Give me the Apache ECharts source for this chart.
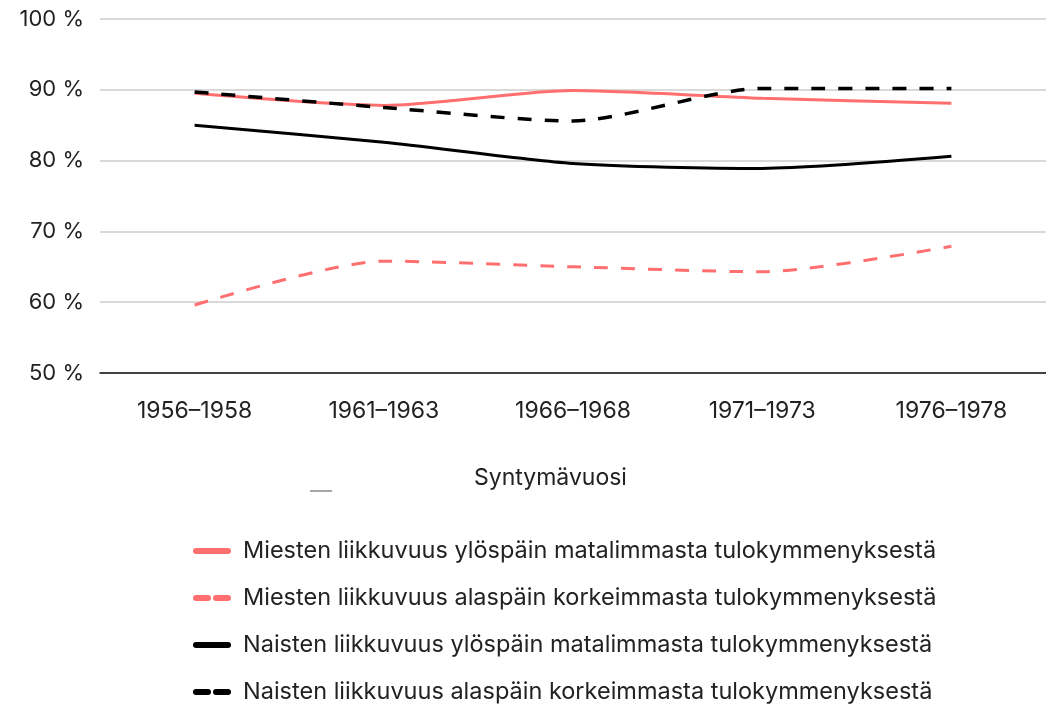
<!DOCTYPE html>
<html>
<head>
<meta charset="utf-8">
<script src="https://cdn.jsdelivr.net/npm/echarts@6/dist/echarts.min.js"></script>
<style>
  html, body { margin: 0; padding: 0; background: #fff; }
  #chart { width: 1046px; height: 704px; }
</style>
</head>
<body>
<div id="chart"></div>
<script>
// Data
var categories = ['1956–1958', '1961–1963', '1966–1968', '1971–1973', '1976–1978'];
var yTicks = [50, 60, 70, 80, 90, 100];

var miehetYlos = [89.5, 87.8, 89.9, 88.8, 88.1];   // Miesten liikkuvuus ylöspäin
var miehetAlas = [59.6, 65.8, 65.0, 64.3, 67.9];   // Miesten liikkuvuus alaspäin
var naisetYlos = [85.0, 82.6, 79.6, 78.9, 80.6];   // Naisten liikkuvuus ylöspäin
var naisetAlas = [89.7, 87.5, 85.6, 90.2, 90.2];   // Naisten liikkuvuus alaspäin

var names = [
  'Miesten liikkuvuus ylöspäin matalimmasta tulokymmenyksestä',
  'Miesten liikkuvuus alaspäin korkeimmasta tulokymmenyksestä',
  'Naisten liikkuvuus ylöspäin matalimmasta tulokymmenyksestä',
  'Naisten liikkuvuus alaspäin korkeimmasta tulokymmenyksestä'
];

var PINK = '#ff6f6f';
var BLACK = '#000000';
var FONT = 'Inter';

// legend icons: one long bar, or two short bars for dashed
var solidIcon = 'path://M3,0H35A3,3,0,0,1,35,6H3A3,3,0,0,1,3,0Z';
var dashIcon = 'path://M3,0H15A3,3,0,0,1,15,6H3A3,3,0,0,1,3,0ZM23,0H35A3,3,0,0,1,35,6H23A3,3,0,0,1,23,0Z';

function makeSeries(name, data, color, dashed, width) {
  return {
    name: name,
    type: 'line',
    data: data,
    symbol: 'none',
    smooth: 0.25,
    color: color,
    lineStyle: { color: color, width: width, type: dashed ? [14, 13] : 'solid' },
    z: 3
  };
}

var myChart = echarts.init(document.getElementById('chart'));
myChart.setOption({
  animation: false,
  textStyle: { fontFamily: FONT },
  grid: { left: 100, right: 0, top: 19, height: 354 },
  xAxis: {
    type: 'category',
    data: categories,
    boundaryGap: true,
    axisLine: { lineStyle: { color: '#111', width: 1.5 } },
    axisTick: { show: false },
    axisLabel: { color: '#222', fontSize: 23, margin: 27, fontFamily: FONT }
  },
  yAxis: {
    type: 'value',
    min: yTicks[0],
    max: yTicks[yTicks.length - 1],
    interval: 10,
    axisLine: { show: false },
    axisTick: { show: false },
    axisLabel: {
      color: '#222', fontSize: 22, margin: 16, fontFamily: FONT,
      formatter: function (v) { return v + ' %'; }
    },
    splitLine: { lineStyle: { color: '#cccccc', width: 1.5 } }
  },
  legend: {
    orient: 'vertical',
    left: 188,
    top: 534,
    height: 190,
    itemWidth: 38,
    itemHeight: 6,
    itemGap: 23,
    textStyle: { color: '#222', fontSize: 23.5, lineHeight: 24, fontFamily: FONT, padding: [0, 0, 0, 7] },
    data: [
      { name: names[0], icon: solidIcon },
      { name: names[1], icon: dashIcon },
      { name: names[2], icon: solidIcon },
      { name: names[3], icon: dashIcon }
    ]
  },
  graphic: [{
    // x-axis title, placed a little left of the plot centre as in the original
    type: 'text',
    left: 474,
    top: 467,
    style: { text: 'Syntymävuosi', fill: '#222', font: '23px Inter' }
  }, {
    type: 'line',
    shape: { x1: 310, y1: 491, x2: 332, y2: 491 },
    style: { stroke: '#888', lineWidth: 1.5 }
  }],
  series: [
    makeSeries(names[0], miehetYlos, PINK, false, 3),
    makeSeries(names[1], miehetAlas, PINK, true, 3),
    makeSeries(names[2], naisetYlos, BLACK, false, 3),
    makeSeries(names[3], naisetAlas, BLACK, true, 3.5)
  ]
});
</script>
</body>
</html>
